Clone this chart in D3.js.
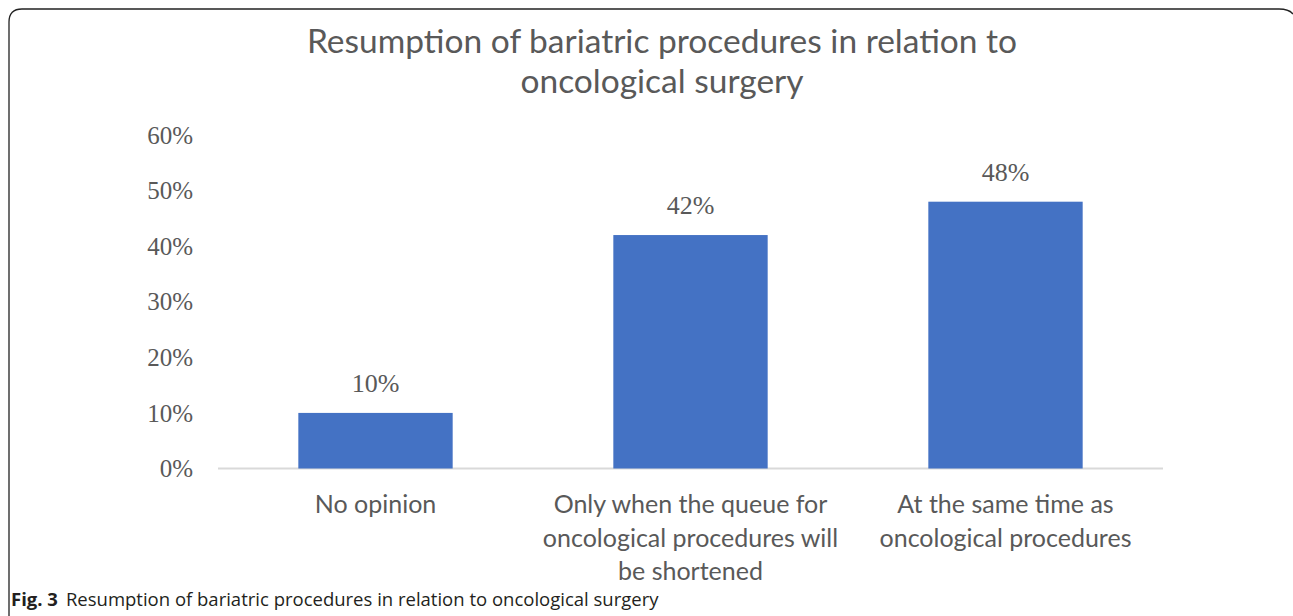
<!DOCTYPE html>
<html>
<head>
<meta charset="utf-8">
<script src="https://cdn.jsdelivr.net/npm/d3@7"></script>
<style>
  body { margin: 0; background: #fff; }
  svg { display: block; }
</style>
</head>
<body>
<div id="viz"></div>
<script>
const categories = [
    ["No opinion"],
    ["Only when the queue for", "oncological procedures will", "be shortened"],
    ["At the same time as", "oncological procedures"]
];
const values = [0.10, 0.42, 0.48];
const valueLabels = ["10%", "42%", "48%"];
const yTicks = [0, 0.1, 0.2, 0.3, 0.4, 0.5, 0.6];
const titleLines = ["Resumption of bariatric procedures in relation to", "oncological surgery"];

const width = 1293;
const height = 616;
const grey = "#595959";

const svg = d3.select("#viz").append("svg")
    .attr("width", width)
    .attr("height", height);

// frame
svg.append("path")
    .attr("d", "M9,616 V22 Q9,9 22,9 H1279 Q1289,9 1293,14")
    .attr("fill", "none")
    .attr("stroke", "#222")
    .attr("stroke-width", 1.3);

const x = d3.scaleBand()
    .domain(d3.range(categories.length))
    .range([218, 1163])
    .paddingInner(0.51)
    .paddingOuter(0.255);

const y = d3.scaleLinear()
    .domain([0, 0.6])
    .range([468.5, 135]);

// y tick labels
svg.append("g")
    .selectAll("text")
    .data(yTicks)
    .enter()
    .append("text")
    .attr("x", 193)
    .attr("y", d => y(d) + 3)
    .attr("text-anchor", "end")
    .attr("dominant-baseline", "middle")
    .style("font-family", "'Liberation Serif', serif")
    .style("font-size", "25px")
    .style("fill", grey)
    .text(d => d3.format(".0%")(d));

// baseline
svg.append("line")
    .attr("x1", 218).attr("x2", 1163)
    .attr("y1", y(0)).attr("y2", y(0))
    .attr("stroke", "#d9d9d9")
    .attr("stroke-width", 2);

svg.append("g")
    .selectAll("rect")
    .data(values)
    .enter()
    .append("rect")
    .attr("x", (d, i) => x(i))
    .attr("width", x.bandwidth())
    .attr("y", d => y(d))
    .attr("height", d => y(0) - y(d))
    .attr("fill", "#4472c4");

svg.append("g")
    .selectAll("text")
    .data(values)
    .enter()
    .append("text")
    .attr("x", (d, i) => x(i) + x.bandwidth() / 2)
    .attr("y", d => y(d) - 27)
    .attr("text-anchor", "middle")
    .attr("dominant-baseline", "middle")
    .style("font-family", "'Liberation Serif', serif")
    .style("font-size", "26px")
    .style("fill", grey)
    .text((d, i) => valueLabels[i]);

// category labels
const cat = svg.append("g")
    .selectAll("text")
    .data(categories)
    .enter()
    .append("text")
    .attr("text-anchor", "middle")
    .style("font-family", "Lato, sans-serif")
    .style("font-size", "25px")
    .style("fill", grey);

cat.selectAll("tspan")
    .data((d, i) => d.map(line => ({ line, i })))
    .enter()
    .append("tspan")
    .attr("x", d => x(d.i) + x.bandwidth() / 2)
    .attr("y", (d, j) => 513 + j * 33.5)
    .text(d => d.line);

// title
svg.append("text")
    .attr("text-anchor", "middle")
    .style("font-family", "Lato, sans-serif")
    .style("font-size", "33.5px")
    .style("fill", grey)
    .selectAll("tspan")
    .data(titleLines)
    .enter()
    .append("tspan")
    .attr("x", 662)
    .attr("y", (d, i) => 53 + i * 40)
    .text(d => d);

// caption
const cap = svg.append("text")
    .attr("x", 11)
    .attr("y", 606)
    .style("font-family", "'Open Sans', sans-serif")
    .style("font-size", "18.5px")
    .style("fill", "#231f20");
cap.append("tspan").style("font-weight", "bold").text("Fig. 3");
cap.append("tspan").attr("dx", 8).text("Resumption of bariatric procedures in relation to oncological surgery");
</script>
</body>
</html>
